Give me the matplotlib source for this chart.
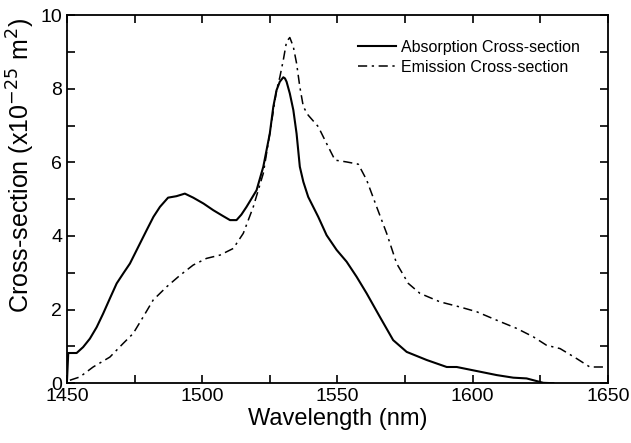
import matplotlib
matplotlib.use("Agg")
import matplotlib.pyplot as plt
from matplotlib.ticker import MultipleLocator

plt.rcParams['font.family'] = ['Liberation Sans', 'DejaVu Sans']

# absorption cross-section (x1e-25 m^2)
abs_wl = [1450.0, 1450.5, 1453.6, 1456.0, 1458.5, 1461.0, 1463.4, 1466.0, 1468.4, 1471.0,
          1473.3, 1476.5, 1479.5, 1482.0, 1484.4, 1487.4, 1490.5, 1493.6, 1496.7, 1500.5,
          1504.1, 1507.5, 1510.3, 1512.7, 1514.5, 1516.4, 1520.1, 1522.6, 1525.0, 1526.3,
          1527.5, 1528.7, 1530.0, 1530.6, 1531.2, 1532.4, 1533.7, 1534.9, 1536.1, 1537.4,
          1539.2, 1542.9, 1546.0, 1549.7, 1553.4, 1557.1, 1560.8, 1565.7, 1570.6, 1575.6,
          1583.0, 1590.4, 1594.1, 1601.5, 1608.9, 1615.0, 1619.9, 1626.1, 1629.8]
abs_cs = [0.0, 0.82, 0.82, 0.98, 1.21, 1.52, 1.89, 2.32, 2.71, 3.00,
          3.25, 3.72, 4.16, 4.52, 4.79, 5.04, 5.08, 5.15, 5.04, 4.88,
          4.70, 4.55, 4.43, 4.43, 4.58, 4.79, 5.24, 5.88, 6.78, 7.51,
          7.96, 8.19, 8.31, 8.28, 8.19, 7.87, 7.42, 6.78, 5.88, 5.47,
          5.06, 4.52, 4.02, 3.62, 3.30, 2.89, 2.44, 1.80, 1.17, 0.85,
          0.63, 0.44, 0.44, 0.33, 0.22, 0.15, 0.13, 0.01, 0.0]

# emission cross-section (x1e-25 m^2)
em_wl = [1451.1, 1454.8, 1459.7, 1465.9, 1470.8, 1474.5, 1478.2, 1481.9, 1486.9, 1491.8,
         1496.7, 1501.6, 1506.6, 1511.5, 1515.2, 1518.9, 1522.6, 1525.0, 1527.5, 1528.7,
         1530.0, 1531.2, 1532.4, 1533.7, 1534.9, 1536.1, 1537.4, 1539.2, 1542.9, 1546.0,
         1549.1, 1553.4, 1557.7, 1560.8, 1564.5, 1568.2, 1571.9, 1576.2, 1580.5, 1587.9,
         1595.3, 1601.5, 1608.9, 1616.2, 1622.4, 1627.3, 1632.3, 1638.4, 1643.3, 1648.9]
em_cs = [0.08, 0.17, 0.44, 0.71, 1.08, 1.35, 1.80, 2.26, 2.62, 2.93,
         3.21, 3.39, 3.48, 3.66, 4.07, 4.79, 5.70, 6.78, 7.96, 8.31,
         8.78, 9.28, 9.39, 9.14, 8.69, 8.05, 7.51, 7.28, 6.97, 6.51,
         6.06, 6.01, 5.95, 5.52, 4.79, 4.07, 3.25, 2.71, 2.44, 2.21,
         2.07, 1.94, 1.71, 1.49, 1.26, 1.03, 0.94, 0.67, 0.44, 0.44]

fig = plt.figure(figsize=(6.31, 4.43), dpi=100)
ax = fig.add_axes([0.106, 0.135, 0.8575, 0.831])

ax.plot(abs_wl, abs_cs, color='black', lw=1.5, label='Absorption Cross-section')
ax.plot(em_wl, em_cs, color='black', lw=1.1, dashes=(6, 3, 1.5, 3),
        label='Emission Cross-section')

ax.set_xlim(1450, 1650)
ax.set_ylim(0, 10)
ax.xaxis.set_major_locator(MultipleLocator(50))
ax.xaxis.set_minor_locator(MultipleLocator(25))
ax.yaxis.set_major_locator(MultipleLocator(2))
ax.yaxis.set_minor_locator(MultipleLocator(1))
ax.tick_params(which='both', direction='in', top=True, right=True, labelsize=14,
               width=1.2, length=6)
for sp in ax.spines.values():
    sp.set_linewidth(1.3)

ax.set_xlabel('Wavelength (nm)', fontsize=17, labelpad=2)
ax.set_ylabel('Cross-section (x10$^{-25}$ m$^{2}$)', fontsize=18)
ax.yaxis.set_label_coords(-0.056, 0.59)

ax.legend(loc='upper right', frameon=False, fontsize=11.5, handlelength=2.4,
          handletextpad=0.3, labelspacing=0.3, bbox_to_anchor=(0.975, 0.972))

fig.savefig('out.png', dpi=100)
